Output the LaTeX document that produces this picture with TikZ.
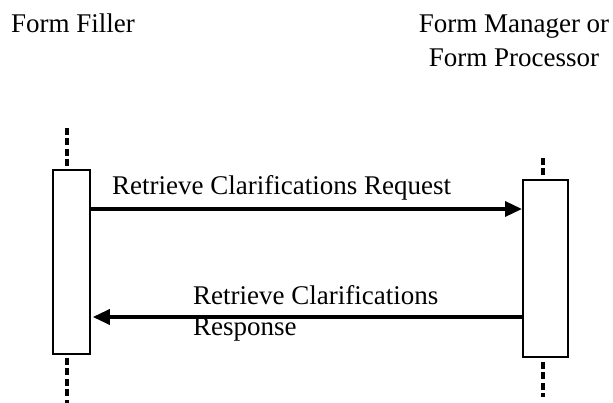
\documentclass[tikz,border=0pt]{standalone}
\usepackage{fontspec}
\setmainfont{Liberation Serif}
\usetikzlibrary{arrows.meta}
\begin{document}
\begin{tikzpicture}[x=1pt,y=-1pt,
  lbl/.style={inner sep=0pt,font=\fontsize{27}{30}\selectfont},
  actbox/.style={draw,line width=1.8pt,fill=white,inner sep=0pt},
  lifeline/.style={line width=3.2pt,dash pattern=on 7pt off 3.5pt,black},
  msg/.style={line width=3.4pt,-{Triangle[length=17pt,width=15pt]}}]
\useasboundingbox (0,0) rectangle (613,403);
% headers
\node[lbl,anchor=base west] (hff) at (11,33) {Form Filler};
\node[lbl,anchor=base,align=center,font=\fontsize{27}{34}\selectfont] (hfm) at (514,67) {Form Manager or\\Form Processor};
% lifelines
\coordinate (ltop) at (67,128);
\coordinate (lbot) at (67,403);
\coordinate (rtop) at (543,158);
\coordinate (rbot) at (543,397);
% activation boxes
\node[actbox,minimum width=37pt,minimum height=184pt,anchor=north west] (lbox) at (52,169) {};
\node[actbox,minimum width=45pt,minimum height=177pt,anchor=north west] (rbox) at (522,179) {};
\draw[lifeline] (ltop) -- (ltop |- lbox.north);
\draw[lifeline] (ltop |- lbox.south) ++(0,3) -- (lbot);
\draw[lifeline] (rtop) -- (rtop |- rbox.north);
\draw[lifeline] (rtop |- rbox.south) ++(0,4) -- (rbot);
% messages
\coordinate (req) at (0,209);
\coordinate (resp) at (0,317);
\draw[msg] (lbox.east |- req) -- (rbox.west |- req);
\draw[msg] (rbox.west |- resp) -- ([xshift=2pt]lbox.east |- resp);
\node[lbl,anchor=base west] (lreq) at (112,195) {Retrieve Clarifications Request};
\node[lbl,anchor=base west] (lresp1) at (193,305) {Retrieve Clarifications};
\node[lbl,anchor=base west] (lresp2) at (193,335) {Response};
\end{tikzpicture}
\end{document}
